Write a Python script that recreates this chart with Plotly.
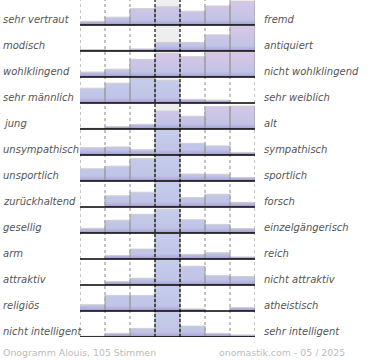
import plotly.graph_objects as go

# ---- data -------------------------------------------------------------
left_labels = ["sehr vertraut", "modisch", "wohlklingend", "sehr männlich", "jung",
               "unsympathisch", "unsportlich", "zurückhaltend", "gesellig", "arm",
               "attraktiv", "religiös", "nicht intelligent"]
right_labels = ["fremd", "antiquiert", "nicht wohlklingend", "sehr weiblich", "alt",
                "sympathisch", "sportlich", "forsch", "einzelgängerisch", "reich",
                "nicht attraktiv", "atheistisch", "sehr intelligent"]
# bar heights per row, 7 steps, as % of the row height (capped at 100)
values = [
    [14, 30, 63, 70, 53, 73, 92],
    [6, 4, 8, 33, 33, 62, 94],
    [19, 30, 68, 91, 78, 94, 95],
    [57, 76, 97, 87, 14, 11, 0],
    [3, 10, 18, 69, 49, 86, 88],
    [28, 31, 20, 100, 45, 35, 10],
    [47, 57, 87, 100, 27, 26, 13],
    [0, 43, 57, 100, 36, 49, 18],
    [18, 49, 72, 91, 51, 33, 17],
    [0, 13, 38, 100, 18, 24, 8],
    [0, 13, 26, 100, 72, 36, 33],
    [24, 60, 60, 100, 8, 0, 13],
    [3, 14, 33, 100, 42, 14, 8],
]
footer_left = "Onogramm Alouis, 105 Stimmen"
footer_right = "onomastik.com - 05 / 2025"

# ---- style --------------------------------------------------------------
row_tint = ["pink", "pink", "pink", "blue", "pink", "blue", "blue", "blue",
            "blue", "blue", "blue", "blue", "blue"]
TOP = {"pink": "#dcc6e6", "blue": "#c6cdec"}
W, H = 370, 360
L, R, T, B = 80, 115, 0, 23
ROW_PX = 26
plot_h = H - T - B
nrows = len(values)
ncols = 7
label_font = dict(family="DejaVu Sans", size=10, color="#555555", style="italic")

fig = go.Figure()

for i, row in enumerate(values):
    base = nrows - 1 - i
    xs, ys = [], []
    sx, sy, tx, ty = [], [], [], []
    for c, v in enumerate(row):
        h = min(v, 100) / 100.0
        if h <= 0:
            continue
        x0, x1 = c, c + 1
        xs += [x0, x1, x1, x0, x0, None]
        ys += [base, base, base + h, base + h, base, None]
        sx += [x1, x1, None]
        sy += [base, base + h, None]
        if c > 0:
            sx += [x0, x0, None]
            sy += [base, base + h, None]
        tx += [x0, x1, None]
        ty += [base + h, base + h, None]
    top = TOP[row_tint[i]]
    fig.add_trace(go.Scatter(
        x=xs, y=ys, mode="lines", line=dict(width=0), fill="toself",
        fillgradient=dict(type="vertical",
                          colorscale=[[0, "#a296ca"], [0.09, "#b2b0dc"],
                                      [0.2, "#c0c4e6"], [1, top]],
                          start=base, stop=base + 1),
        hoverinfo="skip", showlegend=False))
    fig.add_trace(go.Scatter(x=tx, y=ty, mode="lines",
                             line=dict(color="#cfcfcf", width=1),
                             hoverinfo="skip", showlegend=False))
    fig.add_trace(go.Scatter(x=sx, y=sy, mode="lines",
                             line=dict(color="#9a9a9a", width=1),
                             hoverinfo="skip", showlegend=False))

shapes = []
shapes.append(dict(type="rect", xref="x", yref="y", x0=3, x1=4, y0=0, y1=nrows,
                   fillcolor="#eeeeee", line=dict(width=0), layer="below"))
for gx in [0, 1, 2, 5, 6, 7]:
    shapes.append(dict(type="line", xref="x", yref="y", x0=gx, x1=gx, y0=0, y1=nrows,
                       line=dict(color="#888888", width=1, dash="dot"), layer="below"))
for gx in [3, 4]:
    shapes.append(dict(type="line", xref="x", yref="y", x0=gx, x1=gx, y0=0, y1=nrows,
                       line=dict(color="#111111", width=1.2, dash="3px,2px"), layer="above"))
for i in range(nrows):
    b = nrows - 1 - i
    shapes.append(dict(type="line", xref="x", yref="y", x0=0, x1=ncols, y0=b, y1=b,
                       line=dict(color="#000000", width=1.6), layer="above"))

annotations = []
px_w = W - L - R
for i in range(nrows):
    b = nrows - 1 - i
    annotations.append(dict(x=(1 - L) / px_w, y=b + 0.2, xref="paper", yref="y",
                            text=left_labels[i], showarrow=False, xanchor="left",
                            yanchor="middle", font=label_font))
    annotations.append(dict(x=(262 - L) / px_w, y=b + 0.2, xref="paper", yref="y",
                            text=right_labels[i], showarrow=False, xanchor="left",
                            yanchor="middle", font=label_font))
foot_font = dict(family="DejaVu Sans", size=9.4, color="#bbbbbb")
annotations.append(dict(x=(1 - L) / px_w, y=-(352 - plot_h) / plot_h, xref="paper",
                        yref="paper", text=footer_left, showarrow=False, xanchor="left",
                        yanchor="middle", font=foot_font))
annotations.append(dict(x=(347 - L) / px_w, y=-(352 - plot_h) / plot_h, xref="paper",
                        yref="paper", text=footer_right, showarrow=False, xanchor="right",
                        yanchor="middle", font=foot_font))

fig.update_layout(
    width=W, height=H,
    margin=dict(l=L, r=R, t=T, b=B, pad=0),
    paper_bgcolor="white", plot_bgcolor="white",
    xaxis=dict(range=[0, ncols], visible=False, fixedrange=True),
    yaxis=dict(range=[0, plot_h / ROW_PX], visible=False, fixedrange=True),
    shapes=shapes, annotations=annotations, showlegend=False,
)

fig.write_html("out.html", config={"displayModeBar": False},
               post_script="document.body.style.margin='0px';document.body.style.overflow='hidden';")
